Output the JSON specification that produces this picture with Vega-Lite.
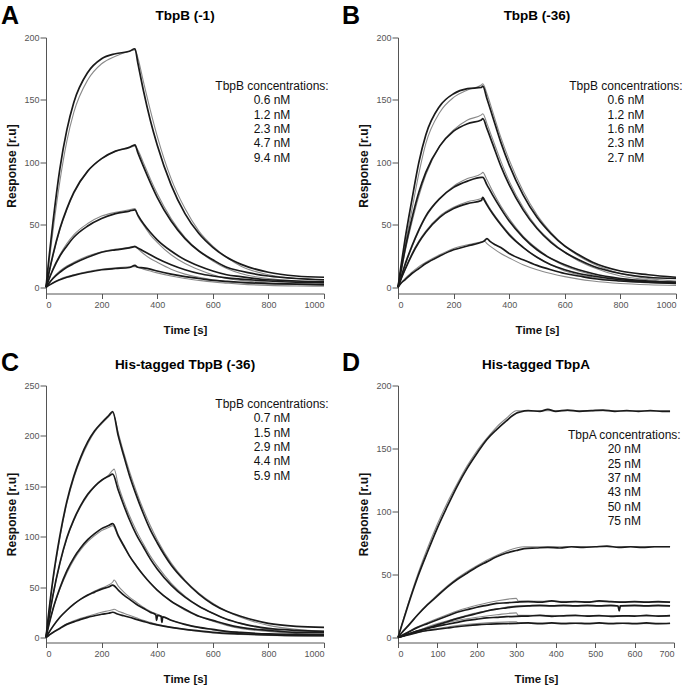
{
"$schema": "https://vega.github.io/schema/vega-lite/v6.json",
"padding": {"left": 0, "top": 3.5, "right": 0, "bottom": 0},
"config": {
 "font": "Liberation Sans",
 "view": {"stroke": null},
 "axis": {"grid": false, "domainColor": "#555", "tickColor": "#555", "labelColor": "#555", "labelFontSize": 9, "labelFont": "Liberation Sans", "titleFont": "Liberation Sans", "titleFontWeight": "bold", "titleColor": "#111", "tickSize": 5, "labelPadding": 2, "format": "d"},
 "axisX": {"titleFontSize": 11.5, "titlePadding": 15},
 "axisY": {"titleFontSize": 12, "titlePadding": 5, "tickSize": 6, "labelPadding": 1}
},
"datasets": {
"A": [
{"c":1,"s":"d","t":0,"r":0},{"c":1,"s":"d","t":10,"r":22},{"c":1,"s":"d","t":25,"r":52},{"c":1,"s":"d","t":50,"r":95},{"c":1,"s":"d","t":75,"r":126},{"c":1,"s":"d","t":100,"r":148},{"c":1,"s":"d","t":150,"r":172},{"c":1,"s":"d","t":200,"r":183},{"c":1,"s":"d","t":250,"r":187},{"c":1,"s":"d","t":300,"r":189},{"c":1,"s":"d","t":320,"r":191},{"c":1,"s":"d","t":330,"r":180},{"c":1,"s":"d","t":350,"r":158},{"c":1,"s":"d","t":375,"r":134},{"c":1,"s":"d","t":400,"r":114},{"c":1,"s":"d","t":450,"r":82},{"c":1,"s":"d","t":500,"r":59},{"c":1,"s":"d","t":550,"r":43},{"c":1,"s":"d","t":600,"r":32},{"c":1,"s":"d","t":650,"r":24},{"c":1,"s":"d","t":700,"r":18.5},{"c":1,"s":"d","t":800,"r":12},{"c":1,"s":"d","t":900,"r":9},{"c":1,"s":"d","t":1000,"r":8},
{"c":1,"s":"f","t":0,"r":0},{"c":1,"s":"f","t":10,"r":18},{"c":1,"s":"f","t":25,"r":45},{"c":1,"s":"f","t":50,"r":85},{"c":1,"s":"f","t":75,"r":117},{"c":1,"s":"f","t":100,"r":140},{"c":1,"s":"f","t":150,"r":166},{"c":1,"s":"f","t":200,"r":179},{"c":1,"s":"f","t":250,"r":185},{"c":1,"s":"f","t":300,"r":189},{"c":1,"s":"f","t":320,"r":190},{"c":1,"s":"f","t":330,"r":184},{"c":1,"s":"f","t":350,"r":165},{"c":1,"s":"f","t":375,"r":142},{"c":1,"s":"f","t":400,"r":121},{"c":1,"s":"f","t":450,"r":87},{"c":1,"s":"f","t":500,"r":63},{"c":1,"s":"f","t":550,"r":45},{"c":1,"s":"f","t":600,"r":33},{"c":1,"s":"f","t":650,"r":24},{"c":1,"s":"f","t":700,"r":17},{"c":1,"s":"f","t":800,"r":10},{"c":1,"s":"f","t":900,"r":7},{"c":1,"s":"f","t":1000,"r":6},
{"c":2,"s":"d","t":0,"r":0},{"c":2,"s":"d","t":10,"r":11},{"c":2,"s":"d","t":25,"r":26},{"c":2,"s":"d","t":50,"r":47},{"c":2,"s":"d","t":75,"r":63},{"c":2,"s":"d","t":100,"r":76},{"c":2,"s":"d","t":150,"r":93},{"c":2,"s":"d","t":200,"r":103},{"c":2,"s":"d","t":250,"r":109},{"c":2,"s":"d","t":300,"r":112},{"c":2,"s":"d","t":320,"r":114},{"c":2,"s":"d","t":330,"r":108},{"c":2,"s":"d","t":350,"r":97},{"c":2,"s":"d","t":375,"r":84},{"c":2,"s":"d","t":400,"r":72},{"c":2,"s":"d","t":450,"r":53},{"c":2,"s":"d","t":500,"r":39},{"c":2,"s":"d","t":550,"r":29},{"c":2,"s":"d","t":600,"r":22},{"c":2,"s":"d","t":650,"r":16},{"c":2,"s":"d","t":700,"r":13},{"c":2,"s":"d","t":800,"r":9},{"c":2,"s":"d","t":900,"r":7},{"c":2,"s":"d","t":1000,"r":6},
{"c":2,"s":"f","t":0,"r":0},{"c":2,"s":"f","t":10,"r":10},{"c":2,"s":"f","t":25,"r":25},{"c":2,"s":"f","t":50,"r":46},{"c":2,"s":"f","t":75,"r":62},{"c":2,"s":"f","t":100,"r":75},{"c":2,"s":"f","t":150,"r":93},{"c":2,"s":"f","t":200,"r":103},{"c":2,"s":"f","t":250,"r":109},{"c":2,"s":"f","t":300,"r":112},{"c":2,"s":"f","t":320,"r":113},{"c":2,"s":"f","t":330,"r":110},{"c":2,"s":"f","t":350,"r":100},{"c":2,"s":"f","t":375,"r":87},{"c":2,"s":"f","t":400,"r":75},{"c":2,"s":"f","t":450,"r":55},{"c":2,"s":"f","t":500,"r":40},{"c":2,"s":"f","t":550,"r":29},{"c":2,"s":"f","t":600,"r":21},{"c":2,"s":"f","t":650,"r":15},{"c":2,"s":"f","t":700,"r":11},{"c":2,"s":"f","t":800,"r":7},{"c":2,"s":"f","t":900,"r":5},{"c":2,"s":"f","t":1000,"r":4},
{"c":3,"s":"d","t":0,"r":0},{"c":3,"s":"d","t":10,"r":6},{"c":3,"s":"d","t":25,"r":14},{"c":3,"s":"d","t":50,"r":25},{"c":3,"s":"d","t":75,"r":33},{"c":3,"s":"d","t":100,"r":40},{"c":3,"s":"d","t":150,"r":49},{"c":3,"s":"d","t":200,"r":55},{"c":3,"s":"d","t":250,"r":59},{"c":3,"s":"d","t":300,"r":61},{"c":3,"s":"d","t":320,"r":62},{"c":3,"s":"d","t":330,"r":58},{"c":3,"s":"d","t":350,"r":51},{"c":3,"s":"d","t":375,"r":44},{"c":3,"s":"d","t":400,"r":38},{"c":3,"s":"d","t":450,"r":29},{"c":3,"s":"d","t":500,"r":22},{"c":3,"s":"d","t":550,"r":17},{"c":3,"s":"d","t":600,"r":13},{"c":3,"s":"d","t":650,"r":10},{"c":3,"s":"d","t":700,"r":8.5},{"c":3,"s":"d","t":800,"r":6},{"c":3,"s":"d","t":900,"r":5},{"c":3,"s":"d","t":1000,"r":4.5},
{"c":3,"s":"f","t":0,"r":0},{"c":3,"s":"f","t":10,"r":6},{"c":3,"s":"f","t":25,"r":15},{"c":3,"s":"f","t":50,"r":26},{"c":3,"s":"f","t":75,"r":35},{"c":3,"s":"f","t":100,"r":42},{"c":3,"s":"f","t":150,"r":51},{"c":3,"s":"f","t":200,"r":57},{"c":3,"s":"f","t":250,"r":60},{"c":3,"s":"f","t":300,"r":62},{"c":3,"s":"f","t":320,"r":63},{"c":3,"s":"f","t":330,"r":57},{"c":3,"s":"f","t":350,"r":50},{"c":3,"s":"f","t":375,"r":42},{"c":3,"s":"f","t":400,"r":36},{"c":3,"s":"f","t":450,"r":26},{"c":3,"s":"f","t":500,"r":19},{"c":3,"s":"f","t":550,"r":14},{"c":3,"s":"f","t":600,"r":10},{"c":3,"s":"f","t":650,"r":7},{"c":3,"s":"f","t":700,"r":5.5},{"c":3,"s":"f","t":800,"r":3.5},{"c":3,"s":"f","t":900,"r":2.5},{"c":3,"s":"f","t":1000,"r":2},
{"c":4,"s":"d","t":0,"r":0},{"c":4,"s":"d","t":10,"r":3},{"c":4,"s":"d","t":25,"r":7},{"c":4,"s":"d","t":50,"r":12},{"c":4,"s":"d","t":75,"r":16},{"c":4,"s":"d","t":100,"r":19},{"c":4,"s":"d","t":150,"r":24},{"c":4,"s":"d","t":200,"r":28},{"c":4,"s":"d","t":250,"r":30},{"c":4,"s":"d","t":300,"r":31.5},{"c":4,"s":"d","t":320,"r":32.5},{"c":4,"s":"d","t":330,"r":31.5},{"c":4,"s":"d","t":350,"r":29},{"c":4,"s":"d","t":375,"r":26},{"c":4,"s":"d","t":400,"r":23},{"c":4,"s":"d","t":450,"r":18},{"c":4,"s":"d","t":500,"r":14},{"c":4,"s":"d","t":550,"r":11},{"c":4,"s":"d","t":600,"r":9},{"c":4,"s":"d","t":650,"r":7.5},{"c":4,"s":"d","t":700,"r":6.5},{"c":4,"s":"d","t":800,"r":5},{"c":4,"s":"d","t":900,"r":4},{"c":4,"s":"d","t":1000,"r":3.5},
{"c":4,"s":"f","t":0,"r":0},{"c":4,"s":"f","t":10,"r":3},{"c":4,"s":"f","t":25,"r":7.5},{"c":4,"s":"f","t":50,"r":13},{"c":4,"s":"f","t":75,"r":17},{"c":4,"s":"f","t":100,"r":20},{"c":4,"s":"f","t":150,"r":25},{"c":4,"s":"f","t":200,"r":28.5},{"c":4,"s":"f","t":250,"r":30.5},{"c":4,"s":"f","t":300,"r":32},{"c":4,"s":"f","t":320,"r":33},{"c":4,"s":"f","t":330,"r":31},{"c":4,"s":"f","t":350,"r":27},{"c":4,"s":"f","t":375,"r":23},{"c":4,"s":"f","t":400,"r":20},{"c":4,"s":"f","t":450,"r":14.5},{"c":4,"s":"f","t":500,"r":10.5},{"c":4,"s":"f","t":550,"r":8},{"c":4,"s":"f","t":600,"r":6},{"c":4,"s":"f","t":650,"r":4.5},{"c":4,"s":"f","t":700,"r":3.5},{"c":4,"s":"f","t":800,"r":2.5},{"c":4,"s":"f","t":900,"r":2},{"c":4,"s":"f","t":1000,"r":1.5},
{"c":5,"s":"d","t":0,"r":0},{"c":5,"s":"d","t":10,"r":1.5},{"c":5,"s":"d","t":25,"r":3.5},{"c":5,"s":"d","t":50,"r":6},{"c":5,"s":"d","t":75,"r":8},{"c":5,"s":"d","t":100,"r":9.5},{"c":5,"s":"d","t":150,"r":12},{"c":5,"s":"d","t":200,"r":14},{"c":5,"s":"d","t":250,"r":15},{"c":5,"s":"d","t":300,"r":15.8},{"c":5,"s":"d","t":320,"r":17.5},{"c":5,"s":"d","t":330,"r":16},{"c":5,"s":"d","t":350,"r":15.5},{"c":5,"s":"d","t":375,"r":14.5},{"c":5,"s":"d","t":400,"r":13},{"c":5,"s":"d","t":450,"r":10.5},{"c":5,"s":"d","t":500,"r":8.5},{"c":5,"s":"d","t":550,"r":7},{"c":5,"s":"d","t":600,"r":5.5},{"c":5,"s":"d","t":650,"r":4.7},{"c":5,"s":"d","t":700,"r":4},{"c":5,"s":"d","t":800,"r":3},{"c":5,"s":"d","t":900,"r":2.5},{"c":5,"s":"d","t":1000,"r":2},
{"c":5,"s":"f","t":0,"r":0},{"c":5,"s":"f","t":10,"r":1.5},{"c":5,"s":"f","t":25,"r":3.5},{"c":5,"s":"f","t":50,"r":6.5},{"c":5,"s":"f","t":75,"r":8.5},{"c":5,"s":"f","t":100,"r":10},{"c":5,"s":"f","t":150,"r":12.5},{"c":5,"s":"f","t":200,"r":14.3},{"c":5,"s":"f","t":250,"r":15.5},{"c":5,"s":"f","t":300,"r":16.3},{"c":5,"s":"f","t":320,"r":16.5},{"c":5,"s":"f","t":330,"r":16},{"c":5,"s":"f","t":350,"r":14.5},{"c":5,"s":"f","t":375,"r":13},{"c":5,"s":"f","t":400,"r":11.5},{"c":5,"s":"f","t":450,"r":9},{"c":5,"s":"f","t":500,"r":7},{"c":5,"s":"f","t":550,"r":5.5},{"c":5,"s":"f","t":600,"r":4.2},{"c":5,"s":"f","t":650,"r":3.3},{"c":5,"s":"f","t":700,"r":2.5},{"c":5,"s":"f","t":800,"r":1.5},{"c":5,"s":"f","t":900,"r":1},{"c":5,"s":"f","t":1000,"r":0.8}
],
"B": [
{"c":1,"s":"d","t":0,"r":0},{"c":1,"s":"d","t":10,"r":16},{"c":1,"s":"d","t":25,"r":38},{"c":1,"s":"d","t":50,"r":70},{"c":1,"s":"d","t":75,"r":100},{"c":1,"s":"d","t":100,"r":122},{"c":1,"s":"d","t":150,"r":145},{"c":1,"s":"d","t":200,"r":155},{"c":1,"s":"d","t":250,"r":159},{"c":1,"s":"d","t":300,"r":160},{"c":1,"s":"d","t":305,"r":161},{"c":1,"s":"d","t":320,"r":151},{"c":1,"s":"d","t":340,"r":137},{"c":1,"s":"d","t":370,"r":116},{"c":1,"s":"d","t":400,"r":98},{"c":1,"s":"d","t":450,"r":74},{"c":1,"s":"d","t":500,"r":56},{"c":1,"s":"d","t":550,"r":43},{"c":1,"s":"d","t":600,"r":33},{"c":1,"s":"d","t":650,"r":26},{"c":1,"s":"d","t":700,"r":20},{"c":1,"s":"d","t":800,"r":13},{"c":1,"s":"d","t":900,"r":10},{"c":1,"s":"d","t":1000,"r":8},
{"c":1,"s":"f","t":0,"r":0},{"c":1,"s":"f","t":10,"r":14},{"c":1,"s":"f","t":25,"r":33},{"c":1,"s":"f","t":50,"r":62},{"c":1,"s":"f","t":75,"r":91},{"c":1,"s":"f","t":100,"r":115},{"c":1,"s":"f","t":150,"r":140},{"c":1,"s":"f","t":200,"r":152},{"c":1,"s":"f","t":250,"r":158},{"c":1,"s":"f","t":300,"r":162},{"c":1,"s":"f","t":305,"r":163},{"c":1,"s":"f","t":320,"r":155},{"c":1,"s":"f","t":340,"r":141},{"c":1,"s":"f","t":370,"r":120},{"c":1,"s":"f","t":400,"r":102},{"c":1,"s":"f","t":450,"r":77},{"c":1,"s":"f","t":500,"r":58},{"c":1,"s":"f","t":550,"r":44},{"c":1,"s":"f","t":600,"r":33},{"c":1,"s":"f","t":650,"r":25},{"c":1,"s":"f","t":700,"r":19},{"c":1,"s":"f","t":800,"r":11},{"c":1,"s":"f","t":900,"r":7},{"c":1,"s":"f","t":1000,"r":5},
{"c":2,"s":"d","t":0,"r":0},{"c":2,"s":"d","t":10,"r":12},{"c":2,"s":"d","t":25,"r":30},{"c":2,"s":"d","t":50,"r":55},{"c":2,"s":"d","t":75,"r":76},{"c":2,"s":"d","t":100,"r":92},{"c":2,"s":"d","t":150,"r":113},{"c":2,"s":"d","t":200,"r":125},{"c":2,"s":"d","t":250,"r":131},{"c":2,"s":"d","t":300,"r":134},{"c":2,"s":"d","t":305,"r":135},{"c":2,"s":"d","t":320,"r":127},{"c":2,"s":"d","t":340,"r":115},{"c":2,"s":"d","t":370,"r":97},{"c":2,"s":"d","t":400,"r":82},{"c":2,"s":"d","t":450,"r":62},{"c":2,"s":"d","t":500,"r":47},{"c":2,"s":"d","t":550,"r":36},{"c":2,"s":"d","t":600,"r":28},{"c":2,"s":"d","t":650,"r":22},{"c":2,"s":"d","t":700,"r":17},{"c":2,"s":"d","t":800,"r":11},{"c":2,"s":"d","t":900,"r":8},{"c":2,"s":"d","t":1000,"r":7},
{"c":2,"s":"f","t":0,"r":0},{"c":2,"s":"f","t":10,"r":11},{"c":2,"s":"f","t":25,"r":28},{"c":2,"s":"f","t":50,"r":52},{"c":2,"s":"f","t":75,"r":73},{"c":2,"s":"f","t":100,"r":90},{"c":2,"s":"f","t":150,"r":113},{"c":2,"s":"f","t":200,"r":126},{"c":2,"s":"f","t":250,"r":134},{"c":2,"s":"f","t":300,"r":138},{"c":2,"s":"f","t":305,"r":139},{"c":2,"s":"f","t":320,"r":131},{"c":2,"s":"f","t":340,"r":119},{"c":2,"s":"f","t":370,"r":101},{"c":2,"s":"f","t":400,"r":85},{"c":2,"s":"f","t":450,"r":64},{"c":2,"s":"f","t":500,"r":48},{"c":2,"s":"f","t":550,"r":37},{"c":2,"s":"f","t":600,"r":28},{"c":2,"s":"f","t":650,"r":21},{"c":2,"s":"f","t":700,"r":16},{"c":2,"s":"f","t":800,"r":9},{"c":2,"s":"f","t":900,"r":6},{"c":2,"s":"f","t":1000,"r":4},
{"c":3,"s":"d","t":0,"r":0},{"c":3,"s":"d","t":10,"r":7},{"c":3,"s":"d","t":25,"r":18},{"c":3,"s":"d","t":50,"r":33},{"c":3,"s":"d","t":75,"r":46},{"c":3,"s":"d","t":100,"r":57},{"c":3,"s":"d","t":150,"r":71},{"c":3,"s":"d","t":200,"r":80},{"c":3,"s":"d","t":250,"r":85},{"c":3,"s":"d","t":300,"r":88},{"c":3,"s":"d","t":305,"r":88},{"c":3,"s":"d","t":320,"r":82},{"c":3,"s":"d","t":340,"r":74},{"c":3,"s":"d","t":370,"r":63},{"c":3,"s":"d","t":400,"r":53},{"c":3,"s":"d","t":450,"r":40},{"c":3,"s":"d","t":500,"r":30},{"c":3,"s":"d","t":550,"r":23},{"c":3,"s":"d","t":600,"r":18},{"c":3,"s":"d","t":650,"r":14},{"c":3,"s":"d","t":700,"r":11},{"c":3,"s":"d","t":800,"r":7},{"c":3,"s":"d","t":900,"r":5},{"c":3,"s":"d","t":1000,"r":4},
{"c":3,"s":"f","t":0,"r":0},{"c":3,"s":"f","t":10,"r":7},{"c":3,"s":"f","t":25,"r":17},{"c":3,"s":"f","t":50,"r":32},{"c":3,"s":"f","t":75,"r":45},{"c":3,"s":"f","t":100,"r":56},{"c":3,"s":"f","t":150,"r":71},{"c":3,"s":"f","t":200,"r":81},{"c":3,"s":"f","t":250,"r":87},{"c":3,"s":"f","t":300,"r":91},{"c":3,"s":"f","t":305,"r":92},{"c":3,"s":"f","t":320,"r":86},{"c":3,"s":"f","t":340,"r":77},{"c":3,"s":"f","t":370,"r":65},{"c":3,"s":"f","t":400,"r":55},{"c":3,"s":"f","t":450,"r":41},{"c":3,"s":"f","t":500,"r":31},{"c":3,"s":"f","t":550,"r":23},{"c":3,"s":"f","t":600,"r":17},{"c":3,"s":"f","t":650,"r":13},{"c":3,"s":"f","t":700,"r":10},{"c":3,"s":"f","t":800,"r":6},{"c":3,"s":"f","t":900,"r":4},{"c":3,"s":"f","t":1000,"r":3},
{"c":4,"s":"d","t":0,"r":0},{"c":4,"s":"d","t":10,"r":6},{"c":4,"s":"d","t":25,"r":14},{"c":4,"s":"d","t":50,"r":26},{"c":4,"s":"d","t":75,"r":36},{"c":4,"s":"d","t":100,"r":44},{"c":4,"s":"d","t":150,"r":56},{"c":4,"s":"d","t":200,"r":63},{"c":4,"s":"d","t":250,"r":67},{"c":4,"s":"d","t":300,"r":69.5},{"c":4,"s":"d","t":305,"r":72},{"c":4,"s":"d","t":310,"r":70},{"c":4,"s":"d","t":320,"r":66},{"c":4,"s":"d","t":340,"r":59},{"c":4,"s":"d","t":370,"r":50},{"c":4,"s":"d","t":400,"r":42},{"c":4,"s":"d","t":450,"r":32},{"c":4,"s":"d","t":500,"r":24},{"c":4,"s":"d","t":550,"r":18},{"c":4,"s":"d","t":600,"r":14},{"c":4,"s":"d","t":650,"r":11},{"c":4,"s":"d","t":700,"r":9},{"c":4,"s":"d","t":800,"r":6},{"c":4,"s":"d","t":900,"r":4.5},{"c":4,"s":"d","t":1000,"r":4},
{"c":4,"s":"f","t":0,"r":0},{"c":4,"s":"f","t":10,"r":6},{"c":4,"s":"f","t":25,"r":14},{"c":4,"s":"f","t":50,"r":27},{"c":4,"s":"f","t":75,"r":37},{"c":4,"s":"f","t":100,"r":45},{"c":4,"s":"f","t":150,"r":57},{"c":4,"s":"f","t":200,"r":64},{"c":4,"s":"f","t":250,"r":68.5},{"c":4,"s":"f","t":300,"r":71},{"c":4,"s":"f","t":305,"r":72},{"c":4,"s":"f","t":320,"r":67},{"c":4,"s":"f","t":340,"r":60},{"c":4,"s":"f","t":370,"r":51},{"c":4,"s":"f","t":400,"r":43},{"c":4,"s":"f","t":450,"r":32},{"c":4,"s":"f","t":500,"r":24},{"c":4,"s":"f","t":550,"r":18},{"c":4,"s":"f","t":600,"r":13},{"c":4,"s":"f","t":650,"r":10},{"c":4,"s":"f","t":700,"r":8},{"c":4,"s":"f","t":800,"r":5},{"c":4,"s":"f","t":900,"r":3.5},{"c":4,"s":"f","t":1000,"r":3},
{"c":5,"s":"d","t":0,"r":0},{"c":5,"s":"d","t":10,"r":3},{"c":5,"s":"d","t":25,"r":6},{"c":5,"s":"d","t":50,"r":11},{"c":5,"s":"d","t":75,"r":15},{"c":5,"s":"d","t":100,"r":19},{"c":5,"s":"d","t":150,"r":25},{"c":5,"s":"d","t":200,"r":30},{"c":5,"s":"d","t":250,"r":33},{"c":5,"s":"d","t":300,"r":36},{"c":5,"s":"d","t":310,"r":37},{"c":5,"s":"d","t":320,"r":39},{"c":5,"s":"d","t":330,"r":37},{"c":5,"s":"d","t":350,"r":34},{"c":5,"s":"d","t":375,"r":31},{"c":5,"s":"d","t":400,"r":27},{"c":5,"s":"d","t":450,"r":22},{"c":5,"s":"d","t":500,"r":17.5},{"c":5,"s":"d","t":550,"r":14},{"c":5,"s":"d","t":600,"r":11},{"c":5,"s":"d","t":650,"r":9},{"c":5,"s":"d","t":700,"r":7},{"c":5,"s":"d","t":800,"r":5},{"c":5,"s":"d","t":900,"r":4},{"c":5,"s":"d","t":1000,"r":3},
{"c":5,"s":"f","t":0,"r":0},{"c":5,"s":"f","t":10,"r":3},{"c":5,"s":"f","t":25,"r":7},{"c":5,"s":"f","t":50,"r":12},{"c":5,"s":"f","t":75,"r":16.5},{"c":5,"s":"f","t":100,"r":20},{"c":5,"s":"f","t":150,"r":26},{"c":5,"s":"f","t":200,"r":31},{"c":5,"s":"f","t":250,"r":34},{"c":5,"s":"f","t":300,"r":36.5},{"c":5,"s":"f","t":310,"r":37},{"c":5,"s":"f","t":320,"r":35},{"c":5,"s":"f","t":340,"r":31.5},{"c":5,"s":"f","t":370,"r":27},{"c":5,"s":"f","t":400,"r":23.5},{"c":5,"s":"f","t":450,"r":18},{"c":5,"s":"f","t":500,"r":14},{"c":5,"s":"f","t":550,"r":11},{"c":5,"s":"f","t":600,"r":8.5},{"c":5,"s":"f","t":650,"r":6.5},{"c":5,"s":"f","t":700,"r":5},{"c":5,"s":"f","t":800,"r":3},{"c":5,"s":"f","t":900,"r":2},{"c":5,"s":"f","t":1000,"r":1.5}
],
"C": [
{"c":1,"s":"d","t":0,"r":0},{"c":1,"s":"d","t":10,"r":25},{"c":1,"s":"d","t":25,"r":58},{"c":1,"s":"d","t":50,"r":101},{"c":1,"s":"d","t":75,"r":135},{"c":1,"s":"d","t":100,"r":160},{"c":1,"s":"d","t":125,"r":179},{"c":1,"s":"d","t":150,"r":194},{"c":1,"s":"d","t":175,"r":205},{"c":1,"s":"d","t":200,"r":213},{"c":1,"s":"d","t":225,"r":220},{"c":1,"s":"d","t":240,"r":224},{"c":1,"s":"d","t":260,"r":200},{"c":1,"s":"d","t":280,"r":180},{"c":1,"s":"d","t":300,"r":161},{"c":1,"s":"d","t":325,"r":141},{"c":1,"s":"d","t":350,"r":123},{"c":1,"s":"d","t":375,"r":107},{"c":1,"s":"d","t":400,"r":94},{"c":1,"s":"d","t":450,"r":72},{"c":1,"s":"d","t":500,"r":56},{"c":1,"s":"d","t":550,"r":43},{"c":1,"s":"d","t":600,"r":33},{"c":1,"s":"d","t":650,"r":26},{"c":1,"s":"d","t":700,"r":21},{"c":1,"s":"d","t":800,"r":14},{"c":1,"s":"d","t":900,"r":11},{"c":1,"s":"d","t":1000,"r":10},
{"c":1,"s":"f","t":0,"r":0},{"c":1,"s":"f","t":10,"r":24},{"c":1,"s":"f","t":25,"r":56},{"c":1,"s":"f","t":50,"r":99},{"c":1,"s":"f","t":75,"r":133},{"c":1,"s":"f","t":100,"r":158},{"c":1,"s":"f","t":125,"r":177},{"c":1,"s":"f","t":150,"r":192},{"c":1,"s":"f","t":175,"r":204},{"c":1,"s":"f","t":200,"r":212},{"c":1,"s":"f","t":225,"r":219},{"c":1,"s":"f","t":240,"r":223},{"c":1,"s":"f","t":260,"r":203},{"c":1,"s":"f","t":280,"r":183},{"c":1,"s":"f","t":300,"r":165},{"c":1,"s":"f","t":325,"r":145},{"c":1,"s":"f","t":350,"r":127},{"c":1,"s":"f","t":375,"r":111},{"c":1,"s":"f","t":400,"r":97},{"c":1,"s":"f","t":450,"r":74},{"c":1,"s":"f","t":500,"r":57},{"c":1,"s":"f","t":550,"r":44},{"c":1,"s":"f","t":600,"r":34},{"c":1,"s":"f","t":650,"r":26},{"c":1,"s":"f","t":700,"r":20},{"c":1,"s":"f","t":800,"r":12},{"c":1,"s":"f","t":900,"r":8},{"c":1,"s":"f","t":1000,"r":6},
{"c":2,"s":"d","t":0,"r":0},{"c":2,"s":"d","t":10,"r":18},{"c":2,"s":"d","t":25,"r":42},{"c":2,"s":"d","t":50,"r":74},{"c":2,"s":"d","t":75,"r":99},{"c":2,"s":"d","t":100,"r":117},{"c":2,"s":"d","t":125,"r":131},{"c":2,"s":"d","t":150,"r":142},{"c":2,"s":"d","t":175,"r":150},{"c":2,"s":"d","t":200,"r":156},{"c":2,"s":"d","t":225,"r":160},{"c":2,"s":"d","t":240,"r":162},{"c":2,"s":"d","t":260,"r":146},{"c":2,"s":"d","t":280,"r":131},{"c":2,"s":"d","t":300,"r":117},{"c":2,"s":"d","t":325,"r":102},{"c":2,"s":"d","t":350,"r":90},{"c":2,"s":"d","t":375,"r":78},{"c":2,"s":"d","t":400,"r":68},{"c":2,"s":"d","t":450,"r":52},{"c":2,"s":"d","t":500,"r":40},{"c":2,"s":"d","t":550,"r":31},{"c":2,"s":"d","t":600,"r":24},{"c":2,"s":"d","t":650,"r":18},{"c":2,"s":"d","t":700,"r":14},{"c":2,"s":"d","t":800,"r":9},{"c":2,"s":"d","t":900,"r":7},{"c":2,"s":"d","t":1000,"r":6},
{"c":2,"s":"f","t":0,"r":0},{"c":2,"s":"f","t":10,"r":17},{"c":2,"s":"f","t":25,"r":41},{"c":2,"s":"f","t":50,"r":73},{"c":2,"s":"f","t":75,"r":98},{"c":2,"s":"f","t":100,"r":116},{"c":2,"s":"f","t":125,"r":130},{"c":2,"s":"f","t":150,"r":141},{"c":2,"s":"f","t":175,"r":150},{"c":2,"s":"f","t":200,"r":156},{"c":2,"s":"f","t":225,"r":161},{"c":2,"s":"f","t":240,"r":166},{"c":2,"s":"f","t":245,"r":167},{"c":2,"s":"f","t":260,"r":151},{"c":2,"s":"f","t":280,"r":135},{"c":2,"s":"f","t":300,"r":121},{"c":2,"s":"f","t":325,"r":106},{"c":2,"s":"f","t":350,"r":93},{"c":2,"s":"f","t":375,"r":81},{"c":2,"s":"f","t":400,"r":71},{"c":2,"s":"f","t":450,"r":54},{"c":2,"s":"f","t":500,"r":41},{"c":2,"s":"f","t":550,"r":31},{"c":2,"s":"f","t":600,"r":24},{"c":2,"s":"f","t":650,"r":18},{"c":2,"s":"f","t":700,"r":14},{"c":2,"s":"f","t":800,"r":8},{"c":2,"s":"f","t":900,"r":5},{"c":2,"s":"f","t":1000,"r":4},
{"c":3,"s":"d","t":0,"r":0},{"c":3,"s":"d","t":10,"r":12},{"c":3,"s":"d","t":25,"r":28},{"c":3,"s":"d","t":50,"r":49},{"c":3,"s":"d","t":75,"r":66},{"c":3,"s":"d","t":100,"r":79},{"c":3,"s":"d","t":125,"r":89},{"c":3,"s":"d","t":150,"r":97},{"c":3,"s":"d","t":175,"r":103},{"c":3,"s":"d","t":200,"r":108},{"c":3,"s":"d","t":225,"r":111},{"c":3,"s":"d","t":240,"r":113},{"c":3,"s":"d","t":260,"r":101},{"c":3,"s":"d","t":280,"r":91},{"c":3,"s":"d","t":300,"r":81},{"c":3,"s":"d","t":325,"r":71},{"c":3,"s":"d","t":350,"r":62},{"c":3,"s":"d","t":375,"r":54},{"c":3,"s":"d","t":400,"r":47},{"c":3,"s":"d","t":450,"r":36},{"c":3,"s":"d","t":500,"r":28},{"c":3,"s":"d","t":550,"r":21},{"c":3,"s":"d","t":600,"r":17},{"c":3,"s":"d","t":650,"r":13},{"c":3,"s":"d","t":700,"r":10},{"c":3,"s":"d","t":800,"r":7},{"c":3,"s":"d","t":900,"r":5},{"c":3,"s":"d","t":1000,"r":5},
{"c":3,"s":"f","t":0,"r":0},{"c":3,"s":"f","t":10,"r":12},{"c":3,"s":"f","t":25,"r":28},{"c":3,"s":"f","t":50,"r":48},{"c":3,"s":"f","t":75,"r":64},{"c":3,"s":"f","t":100,"r":77},{"c":3,"s":"f","t":125,"r":87},{"c":3,"s":"f","t":150,"r":95},{"c":3,"s":"f","t":175,"r":101},{"c":3,"s":"f","t":200,"r":106},{"c":3,"s":"f","t":225,"r":109},{"c":3,"s":"f","t":240,"r":111},{"c":3,"s":"f","t":260,"r":100},{"c":3,"s":"f","t":280,"r":90},{"c":3,"s":"f","t":300,"r":81},{"c":3,"s":"f","t":325,"r":71},{"c":3,"s":"f","t":350,"r":62},{"c":3,"s":"f","t":375,"r":54},{"c":3,"s":"f","t":400,"r":47},{"c":3,"s":"f","t":450,"r":36},{"c":3,"s":"f","t":500,"r":27},{"c":3,"s":"f","t":550,"r":21},{"c":3,"s":"f","t":600,"r":16},{"c":3,"s":"f","t":650,"r":12},{"c":3,"s":"f","t":700,"r":9},{"c":3,"s":"f","t":800,"r":6},{"c":3,"s":"f","t":900,"r":4},{"c":3,"s":"f","t":1000,"r":3},
{"c":4,"s":"d","t":0,"r":0},{"c":4,"s":"d","t":10,"r":4.7},{"c":4,"s":"d","t":25,"r":11},{"c":4,"s":"d","t":50,"r":20},{"c":4,"s":"d","t":75,"r":27},{"c":4,"s":"d","t":100,"r":33},{"c":4,"s":"d","t":125,"r":38},{"c":4,"s":"d","t":150,"r":42},{"c":4,"s":"d","t":175,"r":45},{"c":4,"s":"d","t":200,"r":48},{"c":4,"s":"d","t":225,"r":50},{"c":4,"s":"d","t":240,"r":52},{"c":4,"s":"d","t":260,"r":47},{"c":4,"s":"d","t":280,"r":42},{"c":4,"s":"d","t":300,"r":38},{"c":4,"s":"d","t":325,"r":33},{"c":4,"s":"d","t":350,"r":29},{"c":4,"s":"d","t":375,"r":25},{"c":4,"s":"d","t":395,"r":22.5},{"c":4,"s":"d","t":398,"r":17},{"c":4,"s":"d","t":401,"r":22},{"c":4,"s":"d","t":414,"r":21},{"c":4,"s":"d","t":417,"r":15},{"c":4,"s":"d","t":420,"r":20.5},{"c":4,"s":"d","t":450,"r":17},{"c":4,"s":"d","t":500,"r":13},{"c":4,"s":"d","t":550,"r":10},{"c":4,"s":"d","t":600,"r":8},{"c":4,"s":"d","t":650,"r":6},{"c":4,"s":"d","t":700,"r":5},{"c":4,"s":"d","t":800,"r":3.5},{"c":4,"s":"d","t":900,"r":3},{"c":4,"s":"d","t":1000,"r":2.5},
{"c":4,"s":"f","t":0,"r":0},{"c":4,"s":"f","t":10,"r":4.7},{"c":4,"s":"f","t":25,"r":11},{"c":4,"s":"f","t":50,"r":20},{"c":4,"s":"f","t":75,"r":27},{"c":4,"s":"f","t":100,"r":33},{"c":4,"s":"f","t":125,"r":38},{"c":4,"s":"f","t":150,"r":42},{"c":4,"s":"f","t":175,"r":46},{"c":4,"s":"f","t":200,"r":49},{"c":4,"s":"f","t":225,"r":52},{"c":4,"s":"f","t":240,"r":55},{"c":4,"s":"f","t":245,"r":57},{"c":4,"s":"f","t":260,"r":51},{"c":4,"s":"f","t":280,"r":45},{"c":4,"s":"f","t":300,"r":40},{"c":4,"s":"f","t":325,"r":35},{"c":4,"s":"f","t":350,"r":30},{"c":4,"s":"f","t":375,"r":26},{"c":4,"s":"f","t":400,"r":23},{"c":4,"s":"f","t":450,"r":17},{"c":4,"s":"f","t":500,"r":13},{"c":4,"s":"f","t":550,"r":10},{"c":4,"s":"f","t":600,"r":7.5},{"c":4,"s":"f","t":650,"r":5.5},{"c":4,"s":"f","t":700,"r":4},{"c":4,"s":"f","t":800,"r":2.5},{"c":4,"s":"f","t":900,"r":1.5},{"c":4,"s":"f","t":1000,"r":1},
{"c":5,"s":"d","t":0,"r":0},{"c":5,"s":"d","t":10,"r":2},{"c":5,"s":"d","t":25,"r":5},{"c":5,"s":"d","t":50,"r":9},{"c":5,"s":"d","t":75,"r":13},{"c":5,"s":"d","t":100,"r":15.5},{"c":5,"s":"d","t":125,"r":18},{"c":5,"s":"d","t":150,"r":20},{"c":5,"s":"d","t":175,"r":21.5},{"c":5,"s":"d","t":200,"r":23},{"c":5,"s":"d","t":225,"r":24},{"c":5,"s":"d","t":240,"r":25},{"c":5,"s":"d","t":260,"r":23},{"c":5,"s":"d","t":280,"r":21.5},{"c":5,"s":"d","t":300,"r":20},{"c":5,"s":"d","t":325,"r":18},{"c":5,"s":"d","t":350,"r":16},{"c":5,"s":"d","t":375,"r":14},{"c":5,"s":"d","t":400,"r":12.5},{"c":5,"s":"d","t":450,"r":10},{"c":5,"s":"d","t":500,"r":8},{"c":5,"s":"d","t":550,"r":6.5},{"c":5,"s":"d","t":600,"r":5},{"c":5,"s":"d","t":700,"r":3.5},{"c":5,"s":"d","t":800,"r":2.5},{"c":5,"s":"d","t":900,"r":2},{"c":5,"s":"d","t":1000,"r":2},
{"c":5,"s":"f","t":0,"r":0},{"c":5,"s":"f","t":10,"r":2},{"c":5,"s":"f","t":25,"r":5},{"c":5,"s":"f","t":50,"r":9.5},{"c":5,"s":"f","t":75,"r":13.5},{"c":5,"s":"f","t":100,"r":16.5},{"c":5,"s":"f","t":125,"r":19},{"c":5,"s":"f","t":150,"r":21},{"c":5,"s":"f","t":175,"r":23},{"c":5,"s":"f","t":200,"r":25},{"c":5,"s":"f","t":225,"r":26.5},{"c":5,"s":"f","t":240,"r":27.5},{"c":5,"s":"f","t":245,"r":28},{"c":5,"s":"f","t":260,"r":26},{"c":5,"s":"f","t":280,"r":24},{"c":5,"s":"f","t":300,"r":22},{"c":5,"s":"f","t":325,"r":19.5},{"c":5,"s":"f","t":350,"r":17},{"c":5,"s":"f","t":375,"r":15},{"c":5,"s":"f","t":400,"r":13},{"c":5,"s":"f","t":450,"r":10},{"c":5,"s":"f","t":500,"r":8},{"c":5,"s":"f","t":550,"r":6},{"c":5,"s":"f","t":600,"r":4.5},{"c":5,"s":"f","t":700,"r":3},{"c":5,"s":"f","t":800,"r":2},{"c":5,"s":"f","t":900,"r":1.5},{"c":5,"s":"f","t":1000,"r":1}
],
"D": [
{"c":1,"s":"d","t":0,"r":0},{"c":1,"s":"d","t":10,"r":10},{"c":1,"s":"d","t":25,"r":25},{"c":1,"s":"d","t":50,"r":48},{"c":1,"s":"d","t":75,"r":68},{"c":1,"s":"d","t":100,"r":87},{"c":1,"s":"d","t":125,"r":104},{"c":1,"s":"d","t":150,"r":120},{"c":1,"s":"d","t":175,"r":134},{"c":1,"s":"d","t":200,"r":146},{"c":1,"s":"d","t":225,"r":157},{"c":1,"s":"d","t":250,"r":165},{"c":1,"s":"d","t":275,"r":172},{"c":1,"s":"d","t":290,"r":176},{"c":1,"s":"d","t":300,"r":178},{"c":1,"s":"d","t":310,"r":179},{"c":1,"s":"d","t":330,"r":180},{"c":1,"s":"d","t":360,"r":179.5},{"c":1,"s":"d","t":380,"r":181},{"c":1,"s":"d","t":400,"r":179.5},{"c":1,"s":"d","t":430,"r":180.5},{"c":1,"s":"d","t":460,"r":179.5},{"c":1,"s":"d","t":490,"r":180},{"c":1,"s":"d","t":520,"r":180.5},{"c":1,"s":"d","t":550,"r":179.5},{"c":1,"s":"d","t":580,"r":180},{"c":1,"s":"d","t":610,"r":179.5},{"c":1,"s":"d","t":640,"r":180},{"c":1,"s":"d","t":670,"r":179.5},{"c":1,"s":"d","t":690,"r":179.5},
{"c":1,"s":"f","t":0,"r":0},{"c":1,"s":"f","t":25,"r":26},{"c":1,"s":"f","t":50,"r":50},{"c":1,"s":"f","t":75,"r":71},{"c":1,"s":"f","t":100,"r":90},{"c":1,"s":"f","t":125,"r":107},{"c":1,"s":"f","t":150,"r":122},{"c":1,"s":"f","t":175,"r":136},{"c":1,"s":"f","t":200,"r":148},{"c":1,"s":"f","t":225,"r":158},{"c":1,"s":"f","t":250,"r":167},{"c":1,"s":"f","t":275,"r":174},{"c":1,"s":"f","t":300,"r":180},{"c":1,"s":"f","t":320,"r":180},{"c":1,"s":"f","t":690,"r":180},
{"c":2,"s":"d","t":0,"r":0},{"c":2,"s":"d","t":10,"r":4},{"c":2,"s":"d","t":25,"r":9},{"c":2,"s":"d","t":50,"r":18},{"c":2,"s":"d","t":75,"r":26},{"c":2,"s":"d","t":100,"r":33},{"c":2,"s":"d","t":125,"r":40},{"c":2,"s":"d","t":150,"r":46},{"c":2,"s":"d","t":175,"r":51},{"c":2,"s":"d","t":200,"r":56},{"c":2,"s":"d","t":225,"r":60},{"c":2,"s":"d","t":250,"r":64},{"c":2,"s":"d","t":275,"r":67},{"c":2,"s":"d","t":300,"r":69},{"c":2,"s":"d","t":320,"r":70.5},{"c":2,"s":"d","t":350,"r":71},{"c":2,"s":"d","t":380,"r":71.5},{"c":2,"s":"d","t":410,"r":71},{"c":2,"s":"d","t":440,"r":72},{"c":2,"s":"d","t":470,"r":71.5},{"c":2,"s":"d","t":500,"r":72},{"c":2,"s":"d","t":530,"r":72.5},{"c":2,"s":"d","t":560,"r":71.5},{"c":2,"s":"d","t":590,"r":72},{"c":2,"s":"d","t":620,"r":71.5},{"c":2,"s":"d","t":650,"r":72},{"c":2,"s":"d","t":690,"r":72},
{"c":2,"s":"f","t":0,"r":0},{"c":2,"s":"f","t":25,"r":9},{"c":2,"s":"f","t":50,"r":18},{"c":2,"s":"f","t":100,"r":34},{"c":2,"s":"f","t":150,"r":47},{"c":2,"s":"f","t":200,"r":57},{"c":2,"s":"f","t":250,"r":65},{"c":2,"s":"f","t":300,"r":71},{"c":2,"s":"f","t":320,"r":72},{"c":2,"s":"f","t":690,"r":72},
{"c":3,"s":"d","t":0,"r":0},{"c":3,"s":"d","t":25,"r":4},{"c":3,"s":"d","t":50,"r":8},{"c":3,"s":"d","t":75,"r":11},{"c":3,"s":"d","t":100,"r":14},{"c":3,"s":"d","t":125,"r":17},{"c":3,"s":"d","t":150,"r":20},{"c":3,"s":"d","t":175,"r":22},{"c":3,"s":"d","t":200,"r":24},{"c":3,"s":"d","t":225,"r":25.5},{"c":3,"s":"d","t":250,"r":27},{"c":3,"s":"d","t":275,"r":27.5},{"c":3,"s":"d","t":300,"r":28},{"c":3,"s":"d","t":330,"r":28.5},{"c":3,"s":"d","t":360,"r":28},{"c":3,"s":"d","t":390,"r":29},{"c":3,"s":"d","t":420,"r":28},{"c":3,"s":"d","t":450,"r":28.5},{"c":3,"s":"d","t":480,"r":28},{"c":3,"s":"d","t":510,"r":29},{"c":3,"s":"d","t":540,"r":28.5},{"c":3,"s":"d","t":570,"r":28},{"c":3,"s":"d","t":600,"r":28.5},{"c":3,"s":"d","t":630,"r":28},{"c":3,"s":"d","t":660,"r":28.5},{"c":3,"s":"d","t":690,"r":28},
{"c":3,"s":"f","t":0,"r":0},{"c":3,"s":"f","t":50,"r":8.5},{"c":3,"s":"f","t":100,"r":15},{"c":3,"s":"f","t":150,"r":21},{"c":3,"s":"f","t":200,"r":25.5},{"c":3,"s":"f","t":250,"r":29},{"c":3,"s":"f","t":300,"r":31},{"c":3,"s":"f","t":305,"r":29},{"c":3,"s":"f","t":690,"r":28},
{"c":4,"s":"d","t":0,"r":0},{"c":4,"s":"d","t":25,"r":2.5},{"c":4,"s":"d","t":50,"r":5},{"c":4,"s":"d","t":75,"r":7.5},{"c":4,"s":"d","t":100,"r":10},{"c":4,"s":"d","t":125,"r":12.5},{"c":4,"s":"d","t":150,"r":15},{"c":4,"s":"d","t":175,"r":17},{"c":4,"s":"d","t":200,"r":19},{"c":4,"s":"d","t":225,"r":21},{"c":4,"s":"d","t":250,"r":22.5},{"c":4,"s":"d","t":275,"r":23.5},{"c":4,"s":"d","t":300,"r":24.5},{"c":4,"s":"d","t":330,"r":25},{"c":4,"s":"d","t":360,"r":25.5},{"c":4,"s":"d","t":390,"r":25},{"c":4,"s":"d","t":420,"r":25.5},{"c":4,"s":"d","t":450,"r":25},{"c":4,"s":"d","t":480,"r":25.5},{"c":4,"s":"d","t":510,"r":25},{"c":4,"s":"d","t":540,"r":25.5},{"c":4,"s":"d","t":558,"r":25},{"c":4,"s":"d","t":561,"r":21},{"c":4,"s":"d","t":564,"r":25},{"c":4,"s":"d","t":600,"r":25.5},{"c":4,"s":"d","t":630,"r":25},{"c":4,"s":"d","t":660,"r":25.5},{"c":4,"s":"d","t":690,"r":25},
{"c":4,"s":"f","t":0,"r":0},{"c":4,"s":"f","t":50,"r":5.5},{"c":4,"s":"f","t":100,"r":11},{"c":4,"s":"f","t":150,"r":15.5},{"c":4,"s":"f","t":200,"r":19.5},{"c":4,"s":"f","t":250,"r":22.5},{"c":4,"s":"f","t":300,"r":25},{"c":4,"s":"f","t":690,"r":25},
{"c":5,"s":"d","t":0,"r":0},{"c":5,"s":"d","t":25,"r":2.5},{"c":5,"s":"d","t":50,"r":5},{"c":5,"s":"d","t":75,"r":7},{"c":5,"s":"d","t":100,"r":9},{"c":5,"s":"d","t":125,"r":10.5},{"c":5,"s":"d","t":150,"r":12},{"c":5,"s":"d","t":175,"r":13.5},{"c":5,"s":"d","t":200,"r":14.5},{"c":5,"s":"d","t":225,"r":15.5},{"c":5,"s":"d","t":250,"r":16},{"c":5,"s":"d","t":275,"r":16.5},{"c":5,"s":"d","t":300,"r":16.8},{"c":5,"s":"d","t":330,"r":17},{"c":5,"s":"d","t":360,"r":17.5},{"c":5,"s":"d","t":390,"r":16.8},{"c":5,"s":"d","t":420,"r":17.2},{"c":5,"s":"d","t":450,"r":17.5},{"c":5,"s":"d","t":480,"r":17},{"c":5,"s":"d","t":510,"r":17.3},{"c":5,"s":"d","t":540,"r":16.8},{"c":5,"s":"d","t":570,"r":17.2},{"c":5,"s":"d","t":600,"r":17},{"c":5,"s":"d","t":630,"r":17.5},{"c":5,"s":"d","t":660,"r":17},{"c":5,"s":"d","t":690,"r":17.3},
{"c":5,"s":"f","t":0,"r":0},{"c":5,"s":"f","t":50,"r":5.5},{"c":5,"s":"f","t":100,"r":10},{"c":5,"s":"f","t":150,"r":13.5},{"c":5,"s":"f","t":200,"r":16},{"c":5,"s":"f","t":250,"r":18},{"c":5,"s":"f","t":300,"r":19.5},{"c":5,"s":"f","t":305,"r":17.5},{"c":5,"s":"f","t":690,"r":17},
{"c":6,"s":"d","t":0,"r":0},{"c":6,"s":"d","t":25,"r":2},{"c":6,"s":"d","t":50,"r":4},{"c":6,"s":"d","t":75,"r":5.5},{"c":6,"s":"d","t":100,"r":6.5},{"c":6,"s":"d","t":125,"r":7.5},{"c":6,"s":"d","t":150,"r":8.5},{"c":6,"s":"d","t":175,"r":9.3},{"c":6,"s":"d","t":200,"r":10},{"c":6,"s":"d","t":225,"r":10.5},{"c":6,"s":"d","t":250,"r":10.8},{"c":6,"s":"d","t":275,"r":11},{"c":6,"s":"d","t":300,"r":11.2},{"c":6,"s":"d","t":330,"r":11.5},{"c":6,"s":"d","t":360,"r":11},{"c":6,"s":"d","t":390,"r":11.5},{"c":6,"s":"d","t":420,"r":11},{"c":6,"s":"d","t":450,"r":11.3},{"c":6,"s":"d","t":480,"r":11},{"c":6,"s":"d","t":510,"r":11.5},{"c":6,"s":"d","t":540,"r":11},{"c":6,"s":"d","t":570,"r":11.3},{"c":6,"s":"d","t":600,"r":11},{"c":6,"s":"d","t":630,"r":11.5},{"c":6,"s":"d","t":660,"r":11},{"c":6,"s":"d","t":690,"r":11.3},
{"c":6,"s":"f","t":0,"r":0},{"c":6,"s":"f","t":50,"r":4},{"c":6,"s":"f","t":100,"r":7},{"c":6,"s":"f","t":150,"r":9.5},{"c":6,"s":"f","t":200,"r":11},{"c":6,"s":"f","t":250,"r":12},{"c":6,"s":"f","t":300,"r":12.5},{"c":6,"s":"f","t":305,"r":11.5},{"c":6,"s":"f","t":690,"r":11}
]
},
"columns": 2,
"bounds": "flush",
"spacing": {"row": 92, "column": 74},
"concat": [
{
 "width": 278, "height": 256,
 "data": {"name": "A"},
 "layer": [
  {"transform": [{"filter": {"field": "s", "equal": "f"}}], "mark": {"type": "line", "color": "#8a8a8a", "strokeWidth": 1.1, "interpolate": "monotone"},
   "encoding": {"x": {"field": "t", "type": "quantitative", "scale": {"domain": [0, 1000], "nice": false, "zero": false}, "axis": {"title": "Time [s]", "values": [0, 200, 400, 600, 800, 1000]}}, "y": {"field": "r", "type": "quantitative", "scale": {"domain": [-5, 200], "nice": false, "zero": false}, "axis": {"title": "Response [r.u]", "values": [0, 50, 100, 150, 200]}}, "detail": {"field": "c"}}},
  {"transform": [{"filter": {"field": "s", "equal": "d"}}], "mark": {"type": "line", "color": "#1a1a1a", "strokeWidth": 1.7, "interpolate": "monotone"},
   "encoding": {"x": {"field": "t", "type": "quantitative", "scale": {"domain": [0, 1000], "nice": false, "zero": false}, "axis": {"title": "Time [s]", "values": [0, 200, 400, 600, 800, 1000]}}, "y": {"field": "r", "type": "quantitative", "scale": {"domain": [-5, 200], "nice": false, "zero": false}, "axis": {"title": "Response [r.u]", "values": [0, 50, 100, 150, 200]}}, "detail": {"field": "c"}}},
  {"data": {"values": [{}]}, "mark": {"type": "text", "text": ["TbpB concentrations:", "0.6 nM", "1.2 nM", "2.3 nM", "4.7 nM", "9.4 nM"], "align": "center", "baseline": "top", "fontSize": 12, "lineHeight": 14.4, "color": "#111"},
   "encoding": {"x": {"datum": 813, "type": "quantitative", "scale": {"domain": [0, 1000], "nice": false, "zero": false}, "axis": {"title": "Time [s]", "values": [0, 200, 400, 600, 800, 1000]}}, "y": {"datum": 165.3, "type": "quantitative", "scale": {"domain": [-5, 200], "nice": false, "zero": false}, "axis": {"title": "Response [r.u]", "values": [0, 50, 100, 150, 200]}}}},
  {"data": {"values": [{}]}, "mark": {"type": "text", "text": "TbpB (-1)", "align": "center", "baseline": "middle", "fontSize": 13.5, "fontWeight": "bold", "color": "#000"},
   "encoding": {"x": {"datum": 500, "type": "quantitative", "scale": {"domain": [0, 1000], "nice": false, "zero": false}, "axis": {"title": "Time [s]", "values": [0, 200, 400, 600, 800, 1000]}}, "y": {"datum": 217, "type": "quantitative", "scale": {"domain": [-5, 200], "nice": false, "zero": false}, "axis": {"title": "Response [r.u]", "values": [0, 50, 100, 150, 200]}}}},
  {"data": {"values": [{}]}, "mark": {"type": "text", "text": "A", "align": "left", "baseline": "top", "fontSize": 25, "fontWeight": "bold", "color": "#000"},
   "encoding": {"x": {"datum": -162, "type": "quantitative", "scale": {"domain": [0, 1000], "nice": false, "zero": false}, "axis": {"title": "Time [s]", "values": [0, 200, 400, 600, 800, 1000]}}, "y": {"datum": 226.8, "type": "quantitative", "scale": {"domain": [-5, 200], "nice": false, "zero": false}, "axis": {"title": "Response [r.u]", "values": [0, 50, 100, 150, 200]}}}}
 ]
},
{
 "width": 278, "height": 256,
 "data": {"name": "B"},
 "layer": [
  {"transform": [{"filter": {"field": "s", "equal": "f"}}], "mark": {"type": "line", "color": "#8a8a8a", "strokeWidth": 1.1, "interpolate": "monotone"},
   "encoding": {"x": {"field": "t", "type": "quantitative", "scale": {"domain": [0, 1000], "nice": false, "zero": false}, "axis": {"title": "Time [s]", "values": [0, 200, 400, 600, 800, 1000]}}, "y": {"field": "r", "type": "quantitative", "scale": {"domain": [-5, 200], "nice": false, "zero": false}, "axis": {"title": "Response [r.u]", "values": [0, 50, 100, 150, 200]}}, "detail": {"field": "c"}}},
  {"transform": [{"filter": {"field": "s", "equal": "d"}}], "mark": {"type": "line", "color": "#1a1a1a", "strokeWidth": 1.7, "interpolate": "monotone"},
   "encoding": {"x": {"field": "t", "type": "quantitative", "scale": {"domain": [0, 1000], "nice": false, "zero": false}, "axis": {"title": "Time [s]", "values": [0, 200, 400, 600, 800, 1000]}}, "y": {"field": "r", "type": "quantitative", "scale": {"domain": [-5, 200], "nice": false, "zero": false}, "axis": {"title": "Response [r.u]", "values": [0, 50, 100, 150, 200]}}, "detail": {"field": "c"}}},
  {"data": {"values": [{}]}, "mark": {"type": "text", "text": ["TbpB concentrations:", "0.6 nM", "1.2 nM", "1.6 nM", "2.3 nM", "2.7 nM"], "align": "center", "baseline": "top", "fontSize": 12, "lineHeight": 14.4, "color": "#111"},
   "encoding": {"x": {"datum": 820, "type": "quantitative", "scale": {"domain": [0, 1000], "nice": false, "zero": false}, "axis": {"title": "Time [s]", "values": [0, 200, 400, 600, 800, 1000]}}, "y": {"datum": 165.3, "type": "quantitative", "scale": {"domain": [-5, 200], "nice": false, "zero": false}, "axis": {"title": "Response [r.u]", "values": [0, 50, 100, 150, 200]}}}},
  {"data": {"values": [{}]}, "mark": {"type": "text", "text": "TbpB (-36)", "align": "center", "baseline": "middle", "fontSize": 13.5, "fontWeight": "bold", "color": "#000"},
   "encoding": {"x": {"datum": 500, "type": "quantitative", "scale": {"domain": [0, 1000], "nice": false, "zero": false}, "axis": {"title": "Time [s]", "values": [0, 200, 400, 600, 800, 1000]}}, "y": {"datum": 217, "type": "quantitative", "scale": {"domain": [-5, 200], "nice": false, "zero": false}, "axis": {"title": "Response [r.u]", "values": [0, 50, 100, 150, 200]}}}},
  {"data": {"values": [{}]}, "mark": {"type": "text", "text": "B", "align": "left", "baseline": "top", "fontSize": 25, "fontWeight": "bold", "color": "#000"},
   "encoding": {"x": {"datum": -201, "type": "quantitative", "scale": {"domain": [0, 1000], "nice": false, "zero": false}, "axis": {"title": "Time [s]", "values": [0, 200, 400, 600, 800, 1000]}}, "y": {"datum": 226.8, "type": "quantitative", "scale": {"domain": [-5, 200], "nice": false, "zero": false}, "axis": {"title": "Response [r.u]", "values": [0, 50, 100, 150, 200]}}}}
 ]
},
{
 "width": 278, "height": 257,
 "data": {"name": "C"},
 "layer": [
  {"transform": [{"filter": {"field": "s", "equal": "f"}}], "mark": {"type": "line", "color": "#8a8a8a", "strokeWidth": 1.1, "interpolate": "monotone"},
   "encoding": {"x": {"field": "t", "type": "quantitative", "scale": {"domain": [0, 1000], "nice": false, "zero": false}, "axis": {"title": "Time [s]", "values": [0, 200, 400, 600, 800, 1000]}}, "y": {"field": "r", "type": "quantitative", "scale": {"domain": [-5, 250], "nice": false, "zero": false}, "axis": {"title": "Response [r.u]", "values": [0, 50, 100, 150, 200, 250]}}, "detail": {"field": "c"}}},
  {"transform": [{"filter": {"field": "s", "equal": "d"}}], "mark": {"type": "line", "color": "#1a1a1a", "strokeWidth": 1.7, "interpolate": "monotone"},
   "encoding": {"x": {"field": "t", "type": "quantitative", "scale": {"domain": [0, 1000], "nice": false, "zero": false}, "axis": {"title": "Time [s]", "values": [0, 200, 400, 600, 800, 1000]}}, "y": {"field": "r", "type": "quantitative", "scale": {"domain": [-5, 250], "nice": false, "zero": false}, "axis": {"title": "Response [r.u]", "values": [0, 50, 100, 150, 200, 250]}}, "detail": {"field": "c"}}},
  {"data": {"values": [{}]}, "mark": {"type": "text", "text": ["TbpB concentrations:", "0.7 nM", "1.5 nM", "2.9 nM", "4.4 nM", "5.9 nM"], "align": "center", "baseline": "top", "fontSize": 12, "lineHeight": 14.4, "color": "#111"},
   "encoding": {"x": {"datum": 813, "type": "quantitative", "scale": {"domain": [0, 1000], "nice": false, "zero": false}, "axis": {"title": "Time [s]", "values": [0, 200, 400, 600, 800, 1000]}}, "y": {"datum": 236.8, "type": "quantitative", "scale": {"domain": [-5, 250], "nice": false, "zero": false}, "axis": {"title": "Response [r.u]", "values": [0, 50, 100, 150, 200, 250]}}}},
  {"data": {"values": [{}]}, "mark": {"type": "text", "text": "His-tagged TbpB (-36)", "align": "center", "baseline": "middle", "fontSize": 13.5, "fontWeight": "bold", "color": "#000"},
   "encoding": {"x": {"datum": 500, "type": "quantitative", "scale": {"domain": [0, 1000], "nice": false, "zero": false}, "axis": {"title": "Time [s]", "values": [0, 200, 400, 600, 800, 1000]}}, "y": {"datum": 270, "type": "quantitative", "scale": {"domain": [-5, 250], "nice": false, "zero": false}, "axis": {"title": "Response [r.u]", "values": [0, 50, 100, 150, 200, 250]}}}},
  {"data": {"values": [{}]}, "mark": {"type": "text", "text": "C", "align": "left", "baseline": "top", "fontSize": 25, "fontWeight": "bold", "color": "#000"},
   "encoding": {"x": {"datum": -162, "type": "quantitative", "scale": {"domain": [0, 1000], "nice": false, "zero": false}, "axis": {"title": "Time [s]", "values": [0, 200, 400, 600, 800, 1000]}}, "y": {"datum": 284.5, "type": "quantitative", "scale": {"domain": [-5, 250], "nice": false, "zero": false}, "axis": {"title": "Response [r.u]", "values": [0, 50, 100, 150, 200, 250]}}}}
 ]
},
{
 "width": 276, "height": 257,
 "data": {"name": "D"},
 "layer": [
  {"transform": [{"filter": {"field": "s", "equal": "f"}}], "mark": {"type": "line", "color": "#8a8a8a", "strokeWidth": 1.1, "interpolate": "monotone"},
   "encoding": {"x": {"field": "t", "type": "quantitative", "scale": {"domain": [0, 700], "nice": false, "zero": false}, "axis": {"title": "Time [s]", "values": [0, 100, 200, 300, 400, 500, 600, 700]}}, "y": {"field": "r", "type": "quantitative", "scale": {"domain": [-4, 200], "nice": false, "zero": false}, "axis": {"title": "Response [r.u]", "values": [0, 50, 100, 150, 200]}}, "detail": {"field": "c"}}},
  {"transform": [{"filter": {"field": "s", "equal": "d"}}], "mark": {"type": "line", "color": "#1a1a1a", "strokeWidth": 1.7, "interpolate": "monotone"},
   "encoding": {"x": {"field": "t", "type": "quantitative", "scale": {"domain": [0, 700], "nice": false, "zero": false}, "axis": {"title": "Time [s]", "values": [0, 100, 200, 300, 400, 500, 600, 700]}}, "y": {"field": "r", "type": "quantitative", "scale": {"domain": [-4, 200], "nice": false, "zero": false}, "axis": {"title": "Response [r.u]", "values": [0, 50, 100, 150, 200]}}, "detail": {"field": "c"}}},
  {"data": {"values": [{}]}, "mark": {"type": "text", "text": ["TbpA concentrations:", "20 nM", "25 nM", "37 nM", "43 nM", "50 nM", "75 nM"], "align": "center", "baseline": "top", "fontSize": 12, "lineHeight": 14.4, "color": "#111"},
   "encoding": {"x": {"datum": 574, "type": "quantitative", "scale": {"domain": [0, 700], "nice": false, "zero": false}, "axis": {"title": "Time [s]", "values": [0, 100, 200, 300, 400, 500, 600, 700]}}, "y": {"datum": 164.8, "type": "quantitative", "scale": {"domain": [-4, 200], "nice": false, "zero": false}, "axis": {"title": "Response [r.u]", "values": [0, 50, 100, 150, 200]}}}},
  {"data": {"values": [{}]}, "mark": {"type": "text", "text": "His-tagged TbpA", "align": "center", "baseline": "middle", "fontSize": 13.5, "fontWeight": "bold", "color": "#000"},
   "encoding": {"x": {"datum": 350, "type": "quantitative", "scale": {"domain": [0, 700], "nice": false, "zero": false}, "axis": {"title": "Time [s]", "values": [0, 100, 200, 300, 400, 500, 600, 700]}}, "y": {"datum": 216, "type": "quantitative", "scale": {"domain": [-4, 200], "nice": false, "zero": false}, "axis": {"title": "Response [r.u]", "values": [0, 50, 100, 150, 200]}}}},
  {"data": {"values": [{}]}, "mark": {"type": "text", "text": "D", "align": "left", "baseline": "top", "fontSize": 25, "fontWeight": "bold", "color": "#000"},
   "encoding": {"x": {"datum": -142, "type": "quantitative", "scale": {"domain": [0, 700], "nice": false, "zero": false}, "axis": {"title": "Time [s]", "values": [0, 100, 200, 300, 400, 500, 600, 700]}}, "y": {"datum": 227.6, "type": "quantitative", "scale": {"domain": [-4, 200], "nice": false, "zero": false}, "axis": {"title": "Response [r.u]", "values": [0, 50, 100, 150, 200]}}}}
 ]
}
]
}
